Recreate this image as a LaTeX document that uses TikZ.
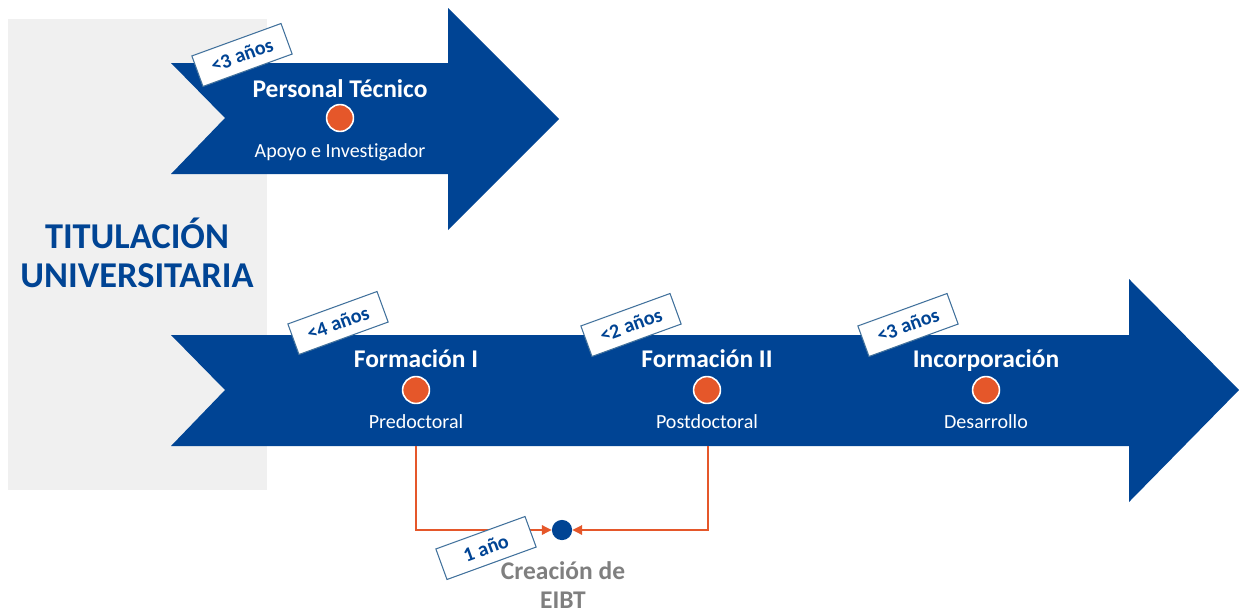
\documentclass[tikz,border=0pt]{standalone}
\usepackage{fontspec}
\setmainfont{Carlito}[Ligatures=NoCommon]
\usetikzlibrary{arrows.meta}
\definecolor{navy}{RGB}{0,68,148}
\definecolor{dotorange}{RGB}{229,87,42}
\definecolor{tagborder}{RGB}{65,113,156}
\definecolor{panelgray}{RGB}{240,240,240}
\definecolor{eibtgray}{RGB}{127,127,127}
\tikzset{stage/.style = {anchor=base, text=white, font=\bfseries\fontsize{14.5}{16}\selectfont},
         sub/.style = {anchor=base, text=white, font=\fontsize{11.4}{13}\selectfont},
         dot/.style = {draw=white, line width=0.9pt, fill=dotorange, circle, inner sep=0pt, minimum size=15.3pt},
         tag/.style = {draw=tagborder, line width=0.6pt, fill=white, text=navy, rotate=20, inner sep=0pt,
                       minimum width=54pt, minimum height=18.5pt, font=\bfseries\fontsize{11.5}{13}\selectfont},
         link/.style = {draw=dotorange, line width=0.6pt, -{Triangle[length=5.5pt,width=5.5pt]}}}

\begin{document}
\begin{tikzpicture}[x=0.02cm, y=-0.02cm]
        \useasboundingbox (0,0) rectangle (1239,612);
        \fill[panelgray] (8,19) rectangle (267,490);

        \fill[navy] (171,63) -- (448,63) -- (448,8) -- (559,119) -- (448,230) -- (448,174) -- (171,174) -- (225,118) -- cycle;
        \fill[navy] (171,335) -- (1129,335) -- (1129,279) -- (1239,390) -- (1129,502) -- (1129,446) -- (171,446) -- (225,390) -- cycle;

        \node[anchor=base, text=navy, font=\bfseries\fontsize{20.7}{24}\selectfont] (title1) at (137,248) {TITULACIÓN};
        \node[anchor=base, text=navy, font=\bfseries\fontsize{20.7}{24}\selectfont] (title2) at (137,287) {UNIVERSITARIA};

        \node[stage] (pt) at (340,97) {Personal Técnico};
        \node[dot] (ptdot) at (340,118) {};
        \node[sub] (ptsub) at (340,157) {Apoyo e Investigador};
        \node[tag] (pttag) at (242,55) {<3 años};

        \node[stage] (fI) at (416,367) {Formación I};
        \node[dot] (fIdot) at (416,390) {};
        \node[sub] (fIsub) at (416,428) {Predoctoral};
        \node[tag] (fItag) at (338,323) {<4 años};

        \node[stage] (fII) at (707,367) {Formación II};
        \node[dot] (fIIdot) at (707,390) {};
        \node[sub] (fIIsub) at (707,428) {Postdoctoral};
        \node[tag] (fIItag) at (631,325) {<2 años};

        \node[stage] (inc) at (986,367) {Incorporación};
        \node[dot] (incdot) at (986,390) {};
        \node[sub] (incsub) at (986,428) {Desarrollo};
        \node[tag] (inctag) at (908,325) {<3 años};

        \coordinate (fIfoot) at (416,446);
        \coordinate (fIIfoot) at (708,446);
        \node[circle, fill=navy, inner sep=0pt, minimum size=11.5pt] (eibt) at (562,530) {};
        \draw[link] (fIfoot) |- (eibt);
        \draw[link] (fIIfoot) |- (eibt);
        \node[tag] (eibttag) at (486,548) {1 año};

        \node[anchor=base, text=eibtgray, font=\bfseries\fontsize{14.5}{16}\selectfont] (eibt1) at (563,579) {Creación de};
        \node[anchor=base, text=eibtgray, font=\bfseries\fontsize{14.5}{16}\selectfont] (eibt2) at (563,608) {EIBT};
    \end{tikzpicture}
\end{document}
